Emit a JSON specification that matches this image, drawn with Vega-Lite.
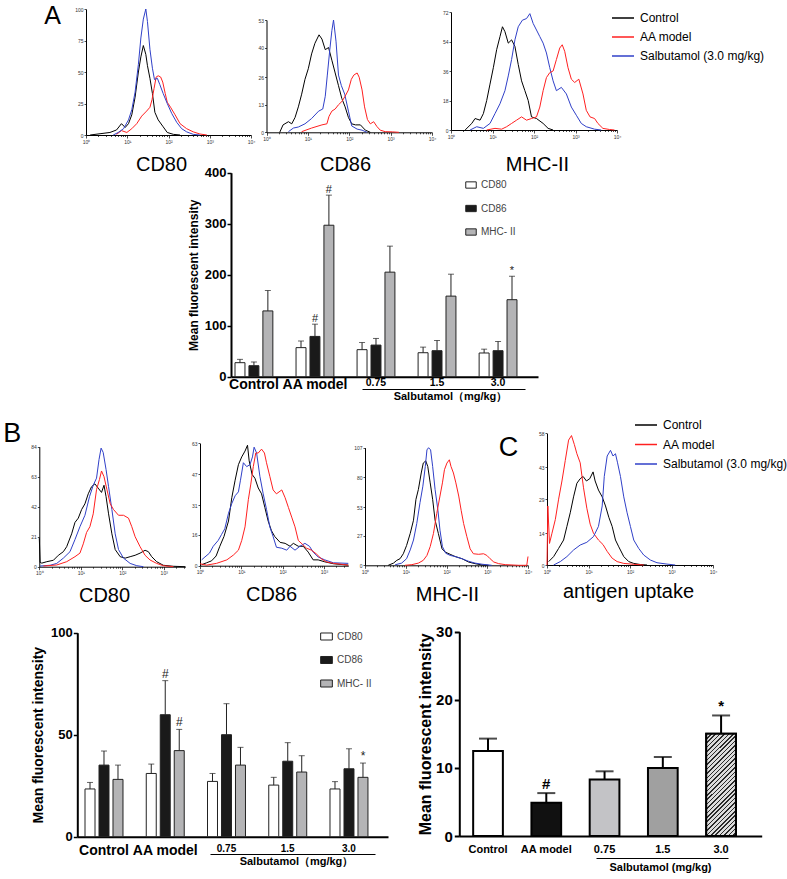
{
"$schema": "https://vega.github.io/schema/vega-lite/v6.json",
"width": 787, "height": 879,
"autosize": {"type": "none"},
"padding": 0,
"background": "white",
"config": {
 "view": {"stroke": null},
 "font": "Liberation Sans",
 "axis": {"grid": false, "domainColor": "#000", "tickColor": "#000", "labelColor": "#000", "titleColor": "#000", "labelFont": "Liberation Sans", "titleFont": "Liberation Sans"},
 "legend": {"labelFont": "Liberation Sans", "titleFont": "Liberation Sans"},
 "text": {"font": "Liberation Sans"}
},
"datasets": {
 "h": [
  {"p":"A80","s":"c","d":0.10,"n":0},{"p":"A80","s":"c","d":0.34,"n":1},{"p":"A80","s":"c","d":0.58,"n":2},{"p":"A80","s":"c","d":0.74,"n":4},{"p":"A80","s":"c","d":0.86,"n":9},{"p":"A80","s":"c","d":0.95,"n":6},{"p":"A80","s":"c","d":1.03,"n":9},{"p":"A80","s":"c","d":1.11,"n":16},{"p":"A80","s":"c","d":1.19,"n":30},{"p":"A80","s":"c","d":1.27,"n":50},{"p":"A80","s":"c","d":1.33,"n":62},{"p":"A80","s":"c","d":1.39,"n":71},{"p":"A80","s":"c","d":1.45,"n":64},{"p":"A80","s":"c","d":1.49,"n":55},{"p":"A80","s":"c","d":1.55,"n":45},{"p":"A80","s":"c","d":1.61,"n":33},{"p":"A80","s":"c","d":1.67,"n":18},{"p":"A80","s":"c","d":1.75,"n":12},{"p":"A80","s":"c","d":1.86,"n":7},{"p":"A80","s":"c","d":1.97,"n":2},{"p":"A80","s":"c","d":2.12,"n":0.5},{"p":"A80","s":"c","d":2.28,"n":0},
  {"p":"A80","s":"a","d":0.74,"n":0.5},{"p":"A80","s":"a","d":0.86,"n":3.5},{"p":"A80","s":"a","d":0.99,"n":2},{"p":"A80","s":"a","d":1.11,"n":5},{"p":"A80","s":"a","d":1.23,"n":9},{"p":"A80","s":"a","d":1.35,"n":15},{"p":"A80","s":"a","d":1.47,"n":19},{"p":"A80","s":"a","d":1.55,"n":22},{"p":"A80","s":"a","d":1.60,"n":28},{"p":"A80","s":"a","d":1.65,"n":37},{"p":"A80","s":"a","d":1.70,"n":46},{"p":"A80","s":"a","d":1.75,"n":47},{"p":"A80","s":"a","d":1.81,"n":46},{"p":"A80","s":"a","d":1.86,"n":42},{"p":"A80","s":"a","d":1.92,"n":33},{"p":"A80","s":"a","d":1.97,"n":26},{"p":"A80","s":"a","d":2.05,"n":22},{"p":"A80","s":"a","d":2.16,"n":16},{"p":"A80","s":"a","d":2.28,"n":9},{"p":"A80","s":"a","d":2.44,"n":5},{"p":"A80","s":"a","d":2.60,"n":2.5},{"p":"A80","s":"a","d":2.76,"n":0.8},{"p":"A80","s":"a","d":2.93,"n":0},
  {"p":"A80","s":"s","d":0.66,"n":0},{"p":"A80","s":"s","d":0.78,"n":2},{"p":"A80","s":"s","d":0.91,"n":5},{"p":"A80","s":"s","d":1.03,"n":12},{"p":"A80","s":"s","d":1.11,"n":20},{"p":"A80","s":"s","d":1.19,"n":34},{"p":"A80","s":"s","d":1.27,"n":56},{"p":"A80","s":"s","d":1.33,"n":77},{"p":"A80","s":"s","d":1.39,"n":92},{"p":"A80","s":"s","d":1.45,"n":100},{"p":"A80","s":"s","d":1.49,"n":90},{"p":"A80","s":"s","d":1.55,"n":68},{"p":"A80","s":"s","d":1.61,"n":53},{"p":"A80","s":"s","d":1.66,"n":44},{"p":"A80","s":"s","d":1.73,"n":45},{"p":"A80","s":"s","d":1.79,"n":40},{"p":"A80","s":"s","d":1.87,"n":33},{"p":"A80","s":"s","d":1.97,"n":25},{"p":"A80","s":"s","d":2.08,"n":17},{"p":"A80","s":"s","d":2.20,"n":10},{"p":"A80","s":"s","d":2.32,"n":5},{"p":"A80","s":"s","d":2.44,"n":2.5},{"p":"A80","s":"s","d":2.60,"n":0.5},{"p":"A80","s":"s","d":2.76,"n":0},
  {"p":"A86","s":"c","d":0.32,"n":0},{"p":"A86","s":"c","d":0.40,"n":3.5},{"p":"A86","s":"c","d":0.53,"n":5},{"p":"A86","s":"c","d":0.61,"n":4},{"p":"A86","s":"c","d":0.69,"n":7},{"p":"A86","s":"c","d":0.77,"n":12},{"p":"A86","s":"c","d":0.85,"n":18},{"p":"A86","s":"c","d":0.93,"n":25},{"p":"A86","s":"c","d":1.01,"n":30},{"p":"A86","s":"c","d":1.09,"n":37},{"p":"A86","s":"c","d":1.17,"n":42},{"p":"A86","s":"c","d":1.27,"n":46},{"p":"A86","s":"c","d":1.34,"n":44},{"p":"A86","s":"c","d":1.42,"n":39},{"p":"A86","s":"c","d":1.50,"n":40},{"p":"A86","s":"c","d":1.58,"n":34},{"p":"A86","s":"c","d":1.66,"n":28},{"p":"A86","s":"c","d":1.74,"n":22},{"p":"A86","s":"c","d":1.82,"n":16},{"p":"A86","s":"c","d":1.90,"n":12},{"p":"A86","s":"c","d":1.98,"n":7},{"p":"A86","s":"c","d":2.06,"n":4},{"p":"A86","s":"c","d":2.15,"n":3.5},{"p":"A86","s":"c","d":2.27,"n":3.5},{"p":"A86","s":"c","d":2.39,"n":1},{"p":"A86","s":"c","d":2.51,"n":0},
  {"p":"A86","s":"s","d":0.53,"n":0.3},{"p":"A86","s":"s","d":0.65,"n":2},{"p":"A86","s":"s","d":0.77,"n":2.5},{"p":"A86","s":"s","d":0.93,"n":4},{"p":"A86","s":"s","d":1.09,"n":6.5},{"p":"A86","s":"s","d":1.26,"n":10},{"p":"A86","s":"s","d":1.36,"n":11},{"p":"A86","s":"s","d":1.42,"n":17},{"p":"A86","s":"s","d":1.47,"n":27},{"p":"A86","s":"s","d":1.53,"n":39},{"p":"A86","s":"s","d":1.58,"n":48},{"p":"A86","s":"s","d":1.62,"n":53},{"p":"A86","s":"s","d":1.68,"n":43},{"p":"A86","s":"s","d":1.74,"n":27},{"p":"A86","s":"s","d":1.81,"n":22},{"p":"A86","s":"s","d":1.89,"n":18},{"p":"A86","s":"s","d":1.98,"n":10},{"p":"A86","s":"s","d":2.06,"n":3},{"p":"A86","s":"s","d":2.19,"n":1.5},{"p":"A86","s":"s","d":2.31,"n":1},{"p":"A86","s":"s","d":2.43,"n":0},
  {"p":"A86","s":"a","d":0.85,"n":0.3},{"p":"A86","s":"a","d":1.09,"n":2},{"p":"A86","s":"a","d":1.34,"n":3.5},{"p":"A86","s":"a","d":1.46,"n":4},{"p":"A86","s":"a","d":1.51,"n":7.5},{"p":"A86","s":"a","d":1.58,"n":10},{"p":"A86","s":"a","d":1.66,"n":11},{"p":"A86","s":"a","d":1.74,"n":13},{"p":"A86","s":"a","d":1.82,"n":14.5},{"p":"A86","s":"a","d":1.90,"n":17},{"p":"A86","s":"a","d":1.98,"n":20},{"p":"A86","s":"a","d":2.05,"n":25},{"p":"A86","s":"a","d":2.11,"n":27},{"p":"A86","s":"a","d":2.19,"n":28},{"p":"A86","s":"a","d":2.24,"n":26},{"p":"A86","s":"a","d":2.31,"n":20},{"p":"A86","s":"a","d":2.37,"n":12},{"p":"A86","s":"a","d":2.44,"n":6},{"p":"A86","s":"a","d":2.51,"n":4},{"p":"A86","s":"a","d":2.59,"n":5},{"p":"A86","s":"a","d":2.67,"n":2.7},{"p":"A86","s":"a","d":2.75,"n":1},{"p":"A86","s":"a","d":2.87,"n":0.3},{"p":"A86","s":"a","d":3.04,"n":0.2},{"p":"A86","s":"a","d":3.20,"n":0},
  {"p":"AMHC","s":"c","d":0.34,"n":0},{"p":"AMHC","s":"c","d":0.50,"n":4},{"p":"AMHC","s":"c","d":0.58,"n":7},{"p":"AMHC","s":"c","d":0.70,"n":6},{"p":"AMHC","s":"c","d":0.78,"n":10},{"p":"AMHC","s":"c","d":0.86,"n":18},{"p":"AMHC","s":"c","d":0.94,"n":28},{"p":"AMHC","s":"c","d":1.02,"n":38},{"p":"AMHC","s":"c","d":1.10,"n":49},{"p":"AMHC","s":"c","d":1.18,"n":57},{"p":"AMHC","s":"c","d":1.24,"n":63},{"p":"AMHC","s":"c","d":1.30,"n":60},{"p":"AMHC","s":"c","d":1.38,"n":53},{"p":"AMHC","s":"c","d":1.46,"n":55},{"p":"AMHC","s":"c","d":1.54,"n":51},{"p":"AMHC","s":"c","d":1.62,"n":40},{"p":"AMHC","s":"c","d":1.70,"n":30},{"p":"AMHC","s":"c","d":1.78,"n":24},{"p":"AMHC","s":"c","d":1.86,"n":18},{"p":"AMHC","s":"c","d":1.94,"n":8},{"p":"AMHC","s":"c","d":2.06,"n":7},{"p":"AMHC","s":"c","d":2.22,"n":4},{"p":"AMHC","s":"c","d":2.34,"n":1},{"p":"AMHC","s":"c","d":2.46,"n":0},
  {"p":"AMHC","s":"s","d":0.46,"n":0},{"p":"AMHC","s":"s","d":0.62,"n":2},{"p":"AMHC","s":"s","d":0.78,"n":1},{"p":"AMHC","s":"s","d":0.94,"n":4},{"p":"AMHC","s":"s","d":1.06,"n":10},{"p":"AMHC","s":"s","d":1.18,"n":16},{"p":"AMHC","s":"s","d":1.30,"n":24},{"p":"AMHC","s":"s","d":1.38,"n":33},{"p":"AMHC","s":"s","d":1.46,"n":43},{"p":"AMHC","s":"s","d":1.54,"n":55},{"p":"AMHC","s":"s","d":1.62,"n":63},{"p":"AMHC","s":"s","d":1.72,"n":67},{"p":"AMHC","s":"s","d":1.82,"n":68},{"p":"AMHC","s":"s","d":1.90,"n":71},{"p":"AMHC","s":"s","d":1.98,"n":65},{"p":"AMHC","s":"s","d":2.06,"n":61},{"p":"AMHC","s":"s","d":2.14,"n":57},{"p":"AMHC","s":"s","d":2.22,"n":53},{"p":"AMHC","s":"s","d":2.30,"n":47},{"p":"AMHC","s":"s","d":2.38,"n":38},{"p":"AMHC","s":"s","d":2.46,"n":30},{"p":"AMHC","s":"s","d":2.54,"n":24},{"p":"AMHC","s":"s","d":2.66,"n":26},{"p":"AMHC","s":"s","d":2.78,"n":22},{"p":"AMHC","s":"s","d":2.90,"n":14},{"p":"AMHC","s":"s","d":3.02,"n":9},{"p":"AMHC","s":"s","d":3.14,"n":4},{"p":"AMHC","s":"s","d":3.26,"n":2},{"p":"AMHC","s":"s","d":3.46,"n":0.5},{"p":"AMHC","s":"s","d":3.62,"n":0},
  {"p":"AMHC","s":"a","d":0.86,"n":0},{"p":"AMHC","s":"a","d":1.06,"n":1},{"p":"AMHC","s":"a","d":1.22,"n":0.5},{"p":"AMHC","s":"a","d":1.34,"n":2},{"p":"AMHC","s":"a","d":1.46,"n":4},{"p":"AMHC","s":"a","d":1.58,"n":6},{"p":"AMHC","s":"a","d":1.70,"n":8},{"p":"AMHC","s":"a","d":1.82,"n":6},{"p":"AMHC","s":"a","d":1.94,"n":7},{"p":"AMHC","s":"a","d":2.06,"n":8},{"p":"AMHC","s":"a","d":2.14,"n":14},{"p":"AMHC","s":"a","d":2.22,"n":24},{"p":"AMHC","s":"a","d":2.30,"n":32},{"p":"AMHC","s":"a","d":2.38,"n":35},{"p":"AMHC","s":"a","d":2.46,"n":36},{"p":"AMHC","s":"a","d":2.54,"n":43},{"p":"AMHC","s":"a","d":2.62,"n":50},{"p":"AMHC","s":"a","d":2.68,"n":52},{"p":"AMHC","s":"a","d":2.74,"n":48},{"p":"AMHC","s":"a","d":2.82,"n":38},{"p":"AMHC","s":"a","d":2.90,"n":31},{"p":"AMHC","s":"a","d":2.98,"n":29},{"p":"AMHC","s":"a","d":3.08,"n":31},{"p":"AMHC","s":"a","d":3.18,"n":22},{"p":"AMHC","s":"a","d":3.26,"n":12},{"p":"AMHC","s":"a","d":3.35,"n":8},{"p":"AMHC","s":"a","d":3.46,"n":7},{"p":"AMHC","s":"a","d":3.54,"n":4},{"p":"AMHC","s":"a","d":3.66,"n":1},{"p":"AMHC","s":"a","d":3.82,"n":0.3},{"p":"AMHC","s":"a","d":3.94,"n":0},
  {"p":"B80","s":"c","d":0,"n":20},{"p":"B80","s":"c","d":0.02,"n":3},{"p":"B80","s":"c","d":0.06,"n":2.5},{"p":"B80","s":"c","d":0.18,"n":3.5},{"p":"B80","s":"c","d":0.34,"n":4.5},{"p":"B80","s":"c","d":0.46,"n":8},{"p":"B80","s":"c","d":0.58,"n":10.5},{"p":"B80","s":"c","d":0.66,"n":14},{"p":"B80","s":"c","d":0.78,"n":23},{"p":"B80","s":"c","d":0.86,"n":31},{"p":"B80","s":"c","d":0.94,"n":34},{"p":"B80","s":"c","d":1.02,"n":40},{"p":"B80","s":"c","d":1.10,"n":44},{"p":"B80","s":"c","d":1.18,"n":51},{"p":"B80","s":"c","d":1.26,"n":56},{"p":"B80","s":"c","d":1.34,"n":58},{"p":"B80","s":"c","d":1.42,"n":55},{"p":"B80","s":"c","d":1.50,"n":52},{"p":"B80","s":"c","d":1.56,"n":57},{"p":"B80","s":"c","d":1.61,"n":49},{"p":"B80","s":"c","d":1.67,"n":37},{"p":"B80","s":"c","d":1.75,"n":23},{"p":"B80","s":"c","d":1.83,"n":12},{"p":"B80","s":"c","d":1.95,"n":7},{"p":"B80","s":"c","d":2.07,"n":6},{"p":"B80","s":"c","d":2.19,"n":7},{"p":"B80","s":"c","d":2.31,"n":8},{"p":"B80","s":"c","d":2.43,"n":9.5},{"p":"B80","s":"c","d":2.55,"n":11.5},{"p":"B80","s":"c","d":2.63,"n":10.5},{"p":"B80","s":"c","d":2.71,"n":7},{"p":"B80","s":"c","d":2.83,"n":3.5},{"p":"B80","s":"c","d":2.99,"n":1},{"p":"B80","s":"c","d":3.23,"n":0.3},{"p":"B80","s":"c","d":3.52,"n":0},
  {"p":"B80","s":"s","d":0.02,"n":0.5},{"p":"B80","s":"s","d":0.26,"n":1},{"p":"B80","s":"s","d":0.42,"n":2.3},{"p":"B80","s":"s","d":0.58,"n":6},{"p":"B80","s":"s","d":0.74,"n":10.5},{"p":"B80","s":"s","d":0.86,"n":19},{"p":"B80","s":"s","d":0.98,"n":28},{"p":"B80","s":"s","d":1.10,"n":36},{"p":"B80","s":"s","d":1.21,"n":49},{"p":"B80","s":"s","d":1.30,"n":57},{"p":"B80","s":"s","d":1.38,"n":62},{"p":"B80","s":"s","d":1.44,"n":75},{"p":"B80","s":"s","d":1.49,"n":83},{"p":"B80","s":"s","d":1.54,"n":80},{"p":"B80","s":"s","d":1.61,"n":68},{"p":"B80","s":"s","d":1.67,"n":56},{"p":"B80","s":"s","d":1.75,"n":40},{"p":"B80","s":"s","d":1.83,"n":23},{"p":"B80","s":"s","d":1.91,"n":12},{"p":"B80","s":"s","d":2.03,"n":6},{"p":"B80","s":"s","d":2.19,"n":2.3},{"p":"B80","s":"s","d":2.35,"n":0.7},{"p":"B80","s":"s","d":2.51,"n":0},
  {"p":"B80","s":"a","d":0.10,"n":0.5},{"p":"B80","s":"a","d":0.42,"n":1.2},{"p":"B80","s":"a","d":0.66,"n":3.5},{"p":"B80","s":"a","d":0.86,"n":7},{"p":"B80","s":"a","d":0.98,"n":9.5},{"p":"B80","s":"a","d":1.06,"n":16},{"p":"B80","s":"a","d":1.14,"n":24},{"p":"B80","s":"a","d":1.22,"n":28},{"p":"B80","s":"a","d":1.30,"n":37},{"p":"B80","s":"a","d":1.38,"n":54},{"p":"B80","s":"a","d":1.45,"n":61},{"p":"B80","s":"a","d":1.50,"n":67},{"p":"B80","s":"a","d":1.56,"n":63},{"p":"B80","s":"a","d":1.63,"n":54},{"p":"B80","s":"a","d":1.71,"n":44},{"p":"B80","s":"a","d":1.79,"n":40},{"p":"B80","s":"a","d":1.91,"n":36},{"p":"B80","s":"a","d":2.03,"n":36},{"p":"B80","s":"a","d":2.15,"n":34},{"p":"B80","s":"a","d":2.23,"n":28},{"p":"B80","s":"a","d":2.31,"n":21},{"p":"B80","s":"a","d":2.43,"n":14},{"p":"B80","s":"a","d":2.55,"n":8},{"p":"B80","s":"a","d":2.67,"n":4.7},{"p":"B80","s":"a","d":2.83,"n":2.3},{"p":"B80","s":"a","d":2.99,"n":0.7},{"p":"B80","s":"a","d":3.23,"n":0},
  {"p":"B86","s":"c","d":0.04,"n":0.5},{"p":"B86","s":"c","d":0.16,"n":1.5},{"p":"B86","s":"c","d":0.28,"n":2.5},{"p":"B86","s":"c","d":0.39,"n":5},{"p":"B86","s":"c","d":0.48,"n":10},{"p":"B86","s":"c","d":0.58,"n":15},{"p":"B86","s":"c","d":0.69,"n":23},{"p":"B86","s":"c","d":0.77,"n":35},{"p":"B86","s":"c","d":0.85,"n":44},{"p":"B86","s":"c","d":0.93,"n":52},{"p":"B86","s":"c","d":1.01,"n":56},{"p":"B86","s":"c","d":1.09,"n":59},{"p":"B86","s":"c","d":1.15,"n":62},{"p":"B86","s":"c","d":1.19,"n":54},{"p":"B86","s":"c","d":1.26,"n":47},{"p":"B86","s":"c","d":1.33,"n":45},{"p":"B86","s":"c","d":1.41,"n":40},{"p":"B86","s":"c","d":1.49,"n":37},{"p":"B86","s":"c","d":1.57,"n":30},{"p":"B86","s":"c","d":1.65,"n":23},{"p":"B86","s":"c","d":1.73,"n":18},{"p":"B86","s":"c","d":1.81,"n":15},{"p":"B86","s":"c","d":1.94,"n":12},{"p":"B86","s":"c","d":2.06,"n":11.5},{"p":"B86","s":"c","d":2.18,"n":10},{"p":"B86","s":"c","d":2.26,"n":11.5},{"p":"B86","s":"c","d":2.38,"n":10},{"p":"B86","s":"c","d":2.50,"n":10},{"p":"B86","s":"c","d":2.62,"n":7},{"p":"B86","s":"c","d":2.74,"n":3},{"p":"B86","s":"c","d":2.86,"n":3},{"p":"B86","s":"c","d":3.02,"n":2},{"p":"B86","s":"c","d":3.23,"n":1},{"p":"B86","s":"c","d":3.59,"n":0.3},
  {"p":"B86","s":"s","d":0.04,"n":3},{"p":"B86","s":"s","d":0.12,"n":4.5},{"p":"B86","s":"s","d":0.23,"n":6.5},{"p":"B86","s":"s","d":0.32,"n":10},{"p":"B86","s":"s","d":0.44,"n":13},{"p":"B86","s":"s","d":0.52,"n":16},{"p":"B86","s":"s","d":0.60,"n":19},{"p":"B86","s":"s","d":0.69,"n":27},{"p":"B86","s":"s","d":0.77,"n":32},{"p":"B86","s":"s","d":0.85,"n":36},{"p":"B86","s":"s","d":0.93,"n":38},{"p":"B86","s":"s","d":0.98,"n":44},{"p":"B86","s":"s","d":1.05,"n":53},{"p":"B86","s":"s","d":1.13,"n":51},{"p":"B86","s":"s","d":1.21,"n":52},{"p":"B86","s":"s","d":1.27,"n":56},{"p":"B86","s":"s","d":1.31,"n":61},{"p":"B86","s":"s","d":1.37,"n":58},{"p":"B86","s":"s","d":1.45,"n":46},{"p":"B86","s":"s","d":1.53,"n":37},{"p":"B86","s":"s","d":1.61,"n":29},{"p":"B86","s":"s","d":1.69,"n":20},{"p":"B86","s":"s","d":1.77,"n":15},{"p":"B86","s":"s","d":1.85,"n":9.5},{"p":"B86","s":"s","d":1.98,"n":9},{"p":"B86","s":"s","d":2.10,"n":8},{"p":"B86","s":"s","d":2.18,"n":10},{"p":"B86","s":"s","d":2.30,"n":8},{"p":"B86","s":"s","d":2.42,"n":10},{"p":"B86","s":"s","d":2.54,"n":11.5},{"p":"B86","s":"s","d":2.65,"n":10},{"p":"B86","s":"s","d":2.74,"n":7},{"p":"B86","s":"s","d":2.86,"n":4.5},{"p":"B86","s":"s","d":3.02,"n":3},{"p":"B86","s":"s","d":3.23,"n":1.5},{"p":"B86","s":"s","d":3.59,"n":1.2},
  {"p":"B86","s":"a","d":0,"n":1},{"p":"B86","s":"a","d":0.16,"n":0.3},{"p":"B86","s":"a","d":0.40,"n":1.2},{"p":"B86","s":"a","d":0.65,"n":3},{"p":"B86","s":"a","d":0.81,"n":5.5},{"p":"B86","s":"a","d":0.93,"n":8},{"p":"B86","s":"a","d":1.01,"n":13},{"p":"B86","s":"a","d":1.09,"n":20},{"p":"B86","s":"a","d":1.17,"n":34},{"p":"B86","s":"a","d":1.23,"n":42},{"p":"B86","s":"a","d":1.29,"n":51},{"p":"B86","s":"a","d":1.35,"n":58},{"p":"B86","s":"a","d":1.41,"n":58},{"p":"B86","s":"a","d":1.49,"n":60},{"p":"B86","s":"a","d":1.56,"n":58},{"p":"B86","s":"a","d":1.61,"n":53},{"p":"B86","s":"a","d":1.69,"n":46},{"p":"B86","s":"a","d":1.77,"n":39},{"p":"B86","s":"a","d":1.85,"n":37},{"p":"B86","s":"a","d":1.98,"n":39},{"p":"B86","s":"a","d":2.06,"n":35},{"p":"B86","s":"a","d":2.14,"n":30},{"p":"B86","s":"a","d":2.22,"n":25},{"p":"B86","s":"a","d":2.30,"n":20},{"p":"B86","s":"a","d":2.38,"n":13},{"p":"B86","s":"a","d":2.48,"n":11},{"p":"B86","s":"a","d":2.58,"n":9},{"p":"B86","s":"a","d":2.70,"n":8},{"p":"B86","s":"a","d":2.82,"n":6},{"p":"B86","s":"a","d":2.94,"n":3.5},{"p":"B86","s":"a","d":3.06,"n":2},{"p":"B86","s":"a","d":3.23,"n":1.2},{"p":"B86","s":"a","d":3.59,"n":0.3},
  {"p":"BMHC","s":"c","d":0.57,"n":0},{"p":"BMHC","s":"c","d":0.70,"n":2},{"p":"BMHC","s":"c","d":0.78,"n":4.5},{"p":"BMHC","s":"c","d":0.86,"n":6},{"p":"BMHC","s":"c","d":0.94,"n":10.5},{"p":"BMHC","s":"c","d":1.02,"n":18},{"p":"BMHC","s":"c","d":1.11,"n":29},{"p":"BMHC","s":"c","d":1.19,"n":41},{"p":"BMHC","s":"c","d":1.25,"n":60},{"p":"BMHC","s":"c","d":1.31,"n":69},{"p":"BMHC","s":"c","d":1.38,"n":84},{"p":"BMHC","s":"c","d":1.43,"n":93},{"p":"BMHC","s":"c","d":1.49,"n":95},{"p":"BMHC","s":"c","d":1.54,"n":90},{"p":"BMHC","s":"c","d":1.60,"n":75},{"p":"BMHC","s":"c","d":1.66,"n":60},{"p":"BMHC","s":"c","d":1.72,"n":41},{"p":"BMHC","s":"c","d":1.80,"n":29},{"p":"BMHC","s":"c","d":1.89,"n":15},{"p":"BMHC","s":"c","d":1.97,"n":12},{"p":"BMHC","s":"c","d":2.09,"n":10},{"p":"BMHC","s":"c","d":2.21,"n":8},{"p":"BMHC","s":"c","d":2.38,"n":6},{"p":"BMHC","s":"c","d":2.54,"n":3},{"p":"BMHC","s":"c","d":2.70,"n":1.5},{"p":"BMHC","s":"c","d":2.87,"n":0.3},{"p":"BMHC","s":"c","d":3.03,"n":0},
  {"p":"BMHC","s":"s","d":0.74,"n":0.5},{"p":"BMHC","s":"s","d":0.90,"n":2},{"p":"BMHC","s":"s","d":1.02,"n":6},{"p":"BMHC","s":"s","d":1.11,"n":14},{"p":"BMHC","s":"s","d":1.19,"n":23},{"p":"BMHC","s":"s","d":1.27,"n":38},{"p":"BMHC","s":"s","d":1.35,"n":57},{"p":"BMHC","s":"s","d":1.42,"n":72},{"p":"BMHC","s":"s","d":1.48,"n":90},{"p":"BMHC","s":"s","d":1.52,"n":105},{"p":"BMHC","s":"s","d":1.56,"n":107},{"p":"BMHC","s":"s","d":1.61,"n":105},{"p":"BMHC","s":"s","d":1.66,"n":90},{"p":"BMHC","s":"s","d":1.72,"n":69},{"p":"BMHC","s":"s","d":1.79,"n":50},{"p":"BMHC","s":"s","d":1.84,"n":32},{"p":"BMHC","s":"s","d":1.90,"n":17},{"p":"BMHC","s":"s","d":1.98,"n":11},{"p":"BMHC","s":"s","d":2.09,"n":9},{"p":"BMHC","s":"s","d":2.21,"n":8},{"p":"BMHC","s":"s","d":2.38,"n":6},{"p":"BMHC","s":"s","d":2.54,"n":3.7},{"p":"BMHC","s":"s","d":2.70,"n":2},{"p":"BMHC","s":"s","d":2.87,"n":1},{"p":"BMHC","s":"s","d":3.11,"n":0},
  {"p":"BMHC","s":"a","d":0.98,"n":0},{"p":"BMHC","s":"a","d":1.15,"n":0.6},{"p":"BMHC","s":"a","d":1.31,"n":2},{"p":"BMHC","s":"a","d":1.43,"n":4.5},{"p":"BMHC","s":"a","d":1.52,"n":9},{"p":"BMHC","s":"a","d":1.60,"n":17},{"p":"BMHC","s":"a","d":1.68,"n":29},{"p":"BMHC","s":"a","d":1.76,"n":47},{"p":"BMHC","s":"a","d":1.84,"n":63},{"p":"BMHC","s":"a","d":1.90,"n":75},{"p":"BMHC","s":"a","d":1.95,"n":87},{"p":"BMHC","s":"a","d":2.01,"n":93},{"p":"BMHC","s":"a","d":2.07,"n":96},{"p":"BMHC","s":"a","d":2.11,"n":90},{"p":"BMHC","s":"a","d":2.17,"n":84},{"p":"BMHC","s":"a","d":2.23,"n":75},{"p":"BMHC","s":"a","d":2.30,"n":63},{"p":"BMHC","s":"a","d":2.36,"n":50},{"p":"BMHC","s":"a","d":2.42,"n":38},{"p":"BMHC","s":"a","d":2.50,"n":26},{"p":"BMHC","s":"a","d":2.58,"n":15},{"p":"BMHC","s":"a","d":2.66,"n":10.5},{"p":"BMHC","s":"a","d":2.79,"n":10},{"p":"BMHC","s":"a","d":2.91,"n":10.5},{"p":"BMHC","s":"a","d":2.99,"n":9},{"p":"BMHC","s":"a","d":3.07,"n":6},{"p":"BMHC","s":"a","d":3.16,"n":3},{"p":"BMHC","s":"a","d":3.28,"n":1.5},{"p":"BMHC","s":"a","d":3.44,"n":0.6},{"p":"BMHC","s":"a","d":3.77,"n":0},{"p":"BMHC","s":"a","d":3.97,"n":0},{"p":"BMHC","s":"a","d":4.0,"n":8},
  {"p":"C","s":"c","d":0.04,"n":1.5},{"p":"C","s":"c","d":0.16,"n":3.7},{"p":"C","s":"c","d":0.28,"n":7.3},{"p":"C","s":"c","d":0.40,"n":11},{"p":"C","s":"c","d":0.48,"n":17},{"p":"C","s":"c","d":0.56,"n":23},{"p":"C","s":"c","d":0.64,"n":30},{"p":"C","s":"c","d":0.72,"n":36},{"p":"C","s":"c","d":0.80,"n":38},{"p":"C","s":"c","d":0.87,"n":39},{"p":"C","s":"c","d":0.95,"n":37},{"p":"C","s":"c","d":1.03,"n":38},{"p":"C","s":"c","d":1.11,"n":41},{"p":"C","s":"c","d":1.16,"n":37},{"p":"C","s":"c","d":1.24,"n":33},{"p":"C","s":"c","d":1.33,"n":30},{"p":"C","s":"c","d":1.41,"n":26},{"p":"C","s":"c","d":1.49,"n":21},{"p":"C","s":"c","d":1.57,"n":17},{"p":"C","s":"c","d":1.65,"n":11},{"p":"C","s":"c","d":1.73,"n":8},{"p":"C","s":"c","d":1.85,"n":3.7},{"p":"C","s":"c","d":1.97,"n":1.5},{"p":"C","s":"c","d":2.09,"n":0.7},{"p":"C","s":"c","d":2.25,"n":0.2},{"p":"C","s":"c","d":2.41,"n":0},
  {"p":"C","s":"a","d":0,"n":0},{"p":"C","s":"a","d":0.02,"n":26},{"p":"C","s":"a","d":0.06,"n":9.5},{"p":"C","s":"a","d":0.12,"n":14},{"p":"C","s":"a","d":0.20,"n":20},{"p":"C","s":"a","d":0.28,"n":29},{"p":"C","s":"a","d":0.36,"n":37},{"p":"C","s":"a","d":0.44,"n":46},{"p":"C","s":"a","d":0.52,"n":55},{"p":"C","s":"a","d":0.59,"n":57},{"p":"C","s":"a","d":0.66,"n":53},{"p":"C","s":"a","d":0.72,"n":49},{"p":"C","s":"a","d":0.80,"n":45},{"p":"C","s":"a","d":0.88,"n":34},{"p":"C","s":"a","d":0.96,"n":25},{"p":"C","s":"a","d":1.04,"n":18},{"p":"C","s":"a","d":1.12,"n":14},{"p":"C","s":"a","d":1.24,"n":11},{"p":"C","s":"a","d":1.35,"n":9},{"p":"C","s":"a","d":1.45,"n":6},{"p":"C","s":"a","d":1.57,"n":3},{"p":"C","s":"a","d":1.69,"n":1.5},{"p":"C","s":"a","d":1.85,"n":0.7},{"p":"C","s":"a","d":2.09,"n":0.3},{"p":"C","s":"a","d":2.33,"n":0},
  {"p":"C","s":"s","d":0.16,"n":0},{"p":"C","s":"s","d":0.32,"n":1.5},{"p":"C","s":"s","d":0.48,"n":3.7},{"p":"C","s":"s","d":0.64,"n":6.6},{"p":"C","s":"s","d":0.80,"n":8.8},{"p":"C","s":"s","d":0.96,"n":10},{"p":"C","s":"s","d":1.12,"n":12.5},{"p":"C","s":"s","d":1.24,"n":17},{"p":"C","s":"s","d":1.33,"n":26},{"p":"C","s":"s","d":1.38,"n":39},{"p":"C","s":"s","d":1.45,"n":48},{"p":"C","s":"s","d":1.53,"n":50.5},{"p":"C","s":"s","d":1.59,"n":48},{"p":"C","s":"s","d":1.65,"n":49},{"p":"C","s":"s","d":1.70,"n":45},{"p":"C","s":"s","d":1.77,"n":39},{"p":"C","s":"s","d":1.85,"n":30},{"p":"C","s":"s","d":1.93,"n":23},{"p":"C","s":"s","d":2.01,"n":17},{"p":"C","s":"s","d":2.09,"n":11},{"p":"C","s":"s","d":2.21,"n":7.3},{"p":"C","s":"s","d":2.33,"n":4.4},{"p":"C","s":"s","d":2.49,"n":2.2},{"p":"C","s":"s","d":2.65,"n":1},{"p":"C","s":"s","d":2.89,"n":0.4},{"p":"C","s":"s","d":3.09,"n":0}
 ],
 "ab": [
  {"g":"Control","m":"CD80","v":27.5,"e":34,"t":""},{"g":"Control","m":"CD86","v":21.6,"e":29,"t":""},{"g":"Control","m":"MHC- II","v":129,"e":169,"t":""},
  {"g":"AA model","m":"CD80","v":57,"e":70,"t":""},{"g":"AA model","m":"CD86","v":79,"e":103,"t":"#"},{"g":"AA model","m":"MHC- II","v":297,"e":356,"t":"#"},
  {"g":"0.75","m":"CD80","v":53,"e":67,"t":""},{"g":"0.75","m":"CD86","v":62,"e":75,"t":""},{"g":"0.75","m":"MHC- II","v":205,"e":256,"t":""},
  {"g":"1.5","m":"CD80","v":47,"e":58,"t":""},{"g":"1.5","m":"CD86","v":51,"e":71,"t":""},{"g":"1.5","m":"MHC- II","v":158,"e":201,"t":""},
  {"g":"3.0","m":"CD80","v":46.5,"e":54,"t":""},{"g":"3.0","m":"CD86","v":51,"e":69,"t":""},{"g":"3.0","m":"MHC- II","v":151,"e":197,"t":"*"}
 ],
 "bb": [
  {"g":"Control","m":"CD80","v":23.4,"e":26.6,"t":""},{"g":"Control","m":"CD86","v":35.1,"e":42,"t":""},{"g":"Control","m":"MHC- II","v":28.1,"e":35.1,"t":""},
  {"g":"AA model","m":"CD80","v":31,"e":35.6,"t":""},{"g":"AA model","m":"CD86","v":59.8,"e":76.5,"t":"#"},{"g":"AA model","m":"MHC- II","v":42.2,"e":52.6,"t":"#"},
  {"g":"0.75","m":"CD80","v":27.1,"e":31,"t":""},{"g":"0.75","m":"CD86","v":50,"e":65.2,"t":""},{"g":"0.75","m":"MHC- II","v":35.1,"e":43.8,"t":""},
  {"g":"1.5","m":"CD80","v":25.3,"e":29.1,"t":""},{"g":"1.5","m":"CD86","v":37,"e":46.1,"t":""},{"g":"1.5","m":"MHC- II","v":31.7,"e":39.7,"t":""},
  {"g":"3.0","m":"CD80","v":23.4,"e":27,"t":""},{"g":"3.0","m":"CD86","v":33.3,"e":43.1,"t":""},{"g":"3.0","m":"MHC- II","v":29.1,"e":36.1,"t":"*"}
 ],
 "cb": [
  {"g":"Control","v":12.5,"e":14.3,"t":""},{"g":"AA model","v":4.9,"e":6.3,"t":"#"},{"g":"0.75","v":8.3,"e":9.5,"t":""},{"g":"1.5","v":10.0,"e":11.6,"t":""},{"g":"3.0","v":15.0,"e":17.7,"t":"*"}
 ]
},
"layer": [
 {
  "data": {"name": "h"}, "transform": [{"filter": "datum.p == 'A80'"}],
  "mark": {"type": "line", "strokeWidth": 1},
  "encoding": {
   "x": {"field": "d", "type": "quantitative", "scale": {"domain": [0, 4], "range": [86, 251], "nice": false, "zero": false},
    "axis": {"orient": "bottom", "offset": -744, "values": [0,0.301,0.477,0.602,0.699,0.778,0.845,0.903,0.954,1,1.301,1.477,1.602,1.699,1.778,1.845,1.903,1.954,2,2.301,2.477,2.602,2.699,2.778,2.845,2.903,2.954,3,3.301,3.477,3.602,3.699,3.778,3.845,3.903,3.954,4],
     "labelExpr": "datum.value % 1 == 0 ? '10' + ['⁰','¹','²','³','⁴'][datum.value] : ''", "labelOverlap": false, "labelFontSize": 5, "labelColor": "#333", "labelPadding": 1, "labelFlush": false,
     "tickSize": {"condition": {"test": "datum.value % 1 == 0", "value": 3}, "value": 1.5}, "tickWidth": 0.7, "domainWidth": 1,
     "title": "CD80", "titleFontSize": 20, "titleFontWeight": "normal", "titleX": 161, "titleY": 35, "titleBaseline": "alphabetic", "titleAlign": "center"}},
   "y": {"field": "n", "type": "quantitative", "scale": {"domain": [0, 100], "range": [135, 9], "nice": false},
    "axis": {"orient": "left", "offset": -86, "values": [0,25,50,75,100], "labelFontSize": 5, "labelColor": "#333", "labelPadding": 1, "tickSize": 2, "tickWidth": 0.7, "domainWidth": 1,
     "title": "A", "titleAngle": 0, "titleX": -34, "titleY": 23, "titleAlign": "center", "titleBaseline": "alphabetic", "titleFontSize": 25, "titleFontWeight": "normal"}},
   "color": {"field": "s", "type": "nominal", "scale": {"domain": ["c","a","s"], "range": ["#000000","#ff2020","#3040c8"]}, "legend": null}
  }
 },
 {
  "data": {"name": "h"}, "transform": [{"filter": "datum.p == 'A86'"}],
  "mark": {"type": "line", "strokeWidth": 1},
  "encoding": {
   "x": {"field": "d", "type": "quantitative", "scale": {"domain": [0, 4], "range": [266.5, 432], "nice": false, "zero": false},
    "axis": {"orient": "bottom", "offset": -746.7, "values": [0,0.301,0.477,0.602,0.699,0.778,0.845,0.903,0.954,1,1.301,1.477,1.602,1.699,1.778,1.845,1.903,1.954,2,2.301,2.477,2.602,2.699,2.778,2.845,2.903,2.954,3,3.301,3.477,3.602,3.699,3.778,3.845,3.903,3.954,4],
     "labelExpr": "datum.value % 1 == 0 ? '10' + ['⁰','¹','²','³','⁴'][datum.value] : ''", "labelOverlap": false, "labelFontSize": 5, "labelColor": "#333", "labelPadding": 1, "labelFlush": false,
     "tickSize": {"condition": {"test": "datum.value % 1 == 0", "value": 3}, "value": 1.5}, "tickWidth": 0.7, "domainWidth": 1,
     "title": "CD86", "titleFontSize": 20, "titleFontWeight": "normal", "titleX": 345, "titleY": 37.7, "titleBaseline": "alphabetic", "titleAlign": "center"}},
   "y": {"field": "n", "type": "quantitative", "scale": {"domain": [0, 53], "range": [132.3, 20], "nice": false},
    "axis": {"orient": "left", "offset": -266.5, "values": [0,13,26,40,53], "labelFontSize": 5, "labelColor": "#333", "labelPadding": 1, "tickSize": 2, "tickWidth": 0.7, "domainWidth": 1, "title": null}},
   "color": {"field": "s", "type": "nominal", "scale": {"domain": ["c","a","s"], "range": ["#000000","#ff2020","#3040c8"]}, "legend": null}
  }
 },
 {
  "data": {"name": "h"}, "transform": [{"filter": "datum.p == 'AMHC'"}],
  "mark": {"type": "line", "strokeWidth": 1},
  "encoding": {
   "x": {"field": "d", "type": "quantitative", "scale": {"domain": [0, 4], "range": [451, 617], "nice": false, "zero": false},
    "axis": {"orient": "bottom", "offset": -749, "values": [0,0.301,0.477,0.602,0.699,0.778,0.845,0.903,0.954,1,1.301,1.477,1.602,1.699,1.778,1.845,1.903,1.954,2,2.301,2.477,2.602,2.699,2.778,2.845,2.903,2.954,3,3.301,3.477,3.602,3.699,3.778,3.845,3.903,3.954,4],
     "labelExpr": "datum.value % 1 == 0 ? '10' + ['⁰','¹','²','³','⁴'][datum.value] : ''", "labelOverlap": false, "labelFontSize": 5, "labelColor": "#333", "labelPadding": 1, "labelFlush": false,
     "tickSize": {"condition": {"test": "datum.value % 1 == 0", "value": 3}, "value": 1.5}, "tickWidth": 0.7, "domainWidth": 1,
     "title": "MHC-II", "titleFontSize": 20, "titleFontWeight": "normal", "titleX": 537, "titleY": 40, "titleBaseline": "alphabetic", "titleAlign": "center"}},
   "y": {"field": "n", "type": "quantitative", "scale": {"domain": [0, 72], "range": [130, 12], "nice": false},
    "axis": {"orient": "left", "offset": -451, "values": [0,18,36,54,72], "labelFontSize": 5, "labelColor": "#333", "labelPadding": 1, "tickSize": 2, "tickWidth": 0.7, "domainWidth": 1, "title": null}},
   "color": {"field": "s", "type": "nominal", "scale": {"domain": ["c","a","s"], "range": ["#000000","#ff2020","#3040c8"]},
    "legend": {"orient": "none", "legendX": 611, "legendY": 6, "title": null, "symbolType": "stroke", "symbolSize": 484, "symbolStrokeWidth": 1.5, "labelFontSize": 12, "labelColor": "#000", "labelOffset": 5, "rowPadding": 1, "padding": 0,
     "labelExpr": "datum.label == 'c' ? 'Control' : datum.label == 'a' ? 'AA model' : 'Salbutamol (3.0 mg/kg)'"}}
  }
 },
 {
  "data": {"name": "h"}, "transform": [{"filter": "datum.p == 'B80'"}],
  "mark": {"type": "line", "strokeWidth": 1},
  "encoding": {
   "x": {"field": "d", "type": "quantitative", "scale": {"domain": [0, 3.52], "range": [39.3, 185.3], "nice": false, "zero": false},
    "axis": {"orient": "bottom", "offset": -312.3, "values": [0,0.301,0.477,0.602,0.699,0.778,0.845,0.903,0.954,1,1.301,1.477,1.602,1.699,1.778,1.845,1.903,1.954,2,2.301,2.477,2.602,2.699,2.778,2.845,2.903,2.954,3,3.301,3.477],
     "labelExpr": "datum.value % 1 == 0 ? '10' + ['⁰','¹','²','³','⁴'][datum.value] : ''", "labelOverlap": false, "labelFontSize": 5, "labelColor": "#333", "labelPadding": 1, "labelFlush": false,
     "tickSize": {"condition": {"test": "datum.value % 1 == 0", "value": 3}, "value": 1.5}, "tickWidth": 0.7, "domainWidth": 1,
     "title": "CD80", "titleFontSize": 20, "titleFontWeight": "normal", "titleX": 104, "titleY": 35, "titleBaseline": "alphabetic", "titleAlign": "center"}},
   "y": {"field": "n", "type": "quantitative", "scale": {"domain": [0, 84], "range": [566.7, 446.7], "nice": false},
    "axis": {"orient": "left", "offset": -39.3, "values": [0,21,42,63,84], "labelFontSize": 5, "labelColor": "#333", "labelPadding": 1, "tickSize": 2, "tickWidth": 0.7, "domainWidth": 1,
     "title": "B", "titleAngle": 0, "titleX": -27.5, "titleY": 441.7, "titleAlign": "center", "titleBaseline": "alphabetic", "titleFontSize": 27, "titleFontWeight": "normal"}},
   "color": {"field": "s", "type": "nominal", "scale": {"domain": ["c","a","s"], "range": ["#000000","#ff2020","#3040c8"]}, "legend": null}
  }
 },
 {
  "data": {"name": "h"}, "transform": [{"filter": "datum.p == 'B86'"}],
  "mark": {"type": "line", "strokeWidth": 1},
  "encoding": {
   "x": {"field": "d", "type": "quantitative", "scale": {"domain": [0, 3.59], "range": [200, 348.3], "nice": false, "zero": false},
    "axis": {"orient": "bottom", "offset": -313.3, "values": [0,0.301,0.477,0.602,0.699,0.778,0.845,0.903,0.954,1,1.301,1.477,1.602,1.699,1.778,1.845,1.903,1.954,2,2.301,2.477,2.602,2.699,2.778,2.845,2.903,2.954,3,3.301,3.477],
     "labelExpr": "datum.value % 1 == 0 ? '10' + ['⁰','¹','²','³','⁴'][datum.value] : ''", "labelOverlap": false, "labelFontSize": 5, "labelColor": "#333", "labelPadding": 1, "labelFlush": false,
     "tickSize": {"condition": {"test": "datum.value % 1 == 0", "value": 3}, "value": 1.5}, "tickWidth": 0.7, "domainWidth": 1,
     "title": "CD86", "titleFontSize": 20, "titleFontWeight": "normal", "titleX": 271, "titleY": 35, "titleBaseline": "alphabetic", "titleAlign": "center"}},
   "y": {"field": "n", "type": "quantitative", "scale": {"domain": [0, 63], "range": [565.7, 443.3], "nice": false},
    "axis": {"orient": "left", "offset": -200, "values": [0,16,31,47,63], "labelFontSize": 5, "labelColor": "#333", "labelPadding": 1, "tickSize": 2, "tickWidth": 0.7, "domainWidth": 1, "title": null}},
   "color": {"field": "s", "type": "nominal", "scale": {"domain": ["c","a","s"], "range": ["#000000","#ff2020","#3040c8"]}, "legend": null}
  }
 },
 {
  "data": {"name": "h"}, "transform": [{"filter": "datum.p == 'BMHC'"}],
  "mark": {"type": "line", "strokeWidth": 1},
  "encoding": {
   "x": {"field": "d", "type": "quantitative", "scale": {"domain": [0, 4], "range": [365, 528], "nice": false, "zero": false},
    "axis": {"orient": "bottom", "offset": -313.7, "values": [0,0.301,0.477,0.602,0.699,0.778,0.845,0.903,0.954,1,1.301,1.477,1.602,1.699,1.778,1.845,1.903,1.954,2,2.301,2.477,2.602,2.699,2.778,2.845,2.903,2.954,3,3.301,3.477,3.602,3.699,3.778,3.845,3.903,3.954,4],
     "labelExpr": "datum.value % 1 == 0 ? '10' + ['⁰','¹','²','³','⁴'][datum.value] : ''", "labelOverlap": false, "labelFontSize": 5, "labelColor": "#333", "labelPadding": 1, "labelFlush": false,
     "tickSize": {"condition": {"test": "datum.value % 1 == 0", "value": 3}, "value": 1.5}, "tickWidth": 0.7, "domainWidth": 1,
     "title": "MHC-II", "titleFontSize": 20, "titleFontWeight": "normal", "titleX": 447, "titleY": 35, "titleBaseline": "alphabetic", "titleAlign": "center"}},
   "y": {"field": "n", "type": "quantitative", "scale": {"domain": [0, 107], "range": [565.3, 447.7], "nice": false},
    "axis": {"orient": "left", "offset": -365, "values": [0,27,53,80,107], "labelFontSize": 5, "labelColor": "#333", "labelPadding": 1, "tickSize": 2, "tickWidth": 0.7, "domainWidth": 1, "title": null}},
   "color": {"field": "s", "type": "nominal", "scale": {"domain": ["c","a","s"], "range": ["#000000","#ff2020","#3040c8"]}, "legend": null}
  }
 },
 {
  "data": {"name": "h"}, "transform": [{"filter": "datum.p == 'C'"}],
  "mark": {"type": "line", "strokeWidth": 1},
  "encoding": {
   "x": {"field": "d", "type": "quantitative", "scale": {"domain": [0, 4], "range": [547, 713], "nice": false, "zero": false},
    "axis": {"orient": "bottom", "offset": -314, "values": [0,0.301,0.477,0.602,0.699,0.778,0.845,0.903,0.954,1,1.301,1.477,1.602,1.699,1.778,1.845,1.903,1.954,2,2.301,2.477,2.602,2.699,2.778,2.845,2.903,2.954,3,3.301,3.477,3.602,3.699,3.778,3.845,3.903,3.954,4],
     "labelExpr": "datum.value % 1 == 0 ? '10' + ['⁰','¹','²','³','⁴'][datum.value] : ''", "labelOverlap": false, "labelFontSize": 5, "labelColor": "#333", "labelPadding": 1, "labelFlush": false,
     "tickSize": {"condition": {"test": "datum.value % 1 == 0", "value": 3}, "value": 1.5}, "tickWidth": 0.7, "domainWidth": 1,
     "title": "antigen uptake", "titleFontSize": 20, "titleFontWeight": "normal", "titleX": 628, "titleY": 32, "titleBaseline": "alphabetic", "titleAlign": "center"}},
   "y": {"field": "n", "type": "quantitative", "scale": {"domain": [0, 58], "range": [565, 433.3], "nice": false},
    "axis": {"orient": "left", "offset": -547, "values": [0,14,29,43,58], "labelFontSize": 5, "labelColor": "#333", "labelPadding": 1, "tickSize": 2, "tickWidth": 0.7, "domainWidth": 1,
     "title": "C", "titleAngle": 0, "titleX": -39, "titleY": 455, "titleAlign": "center", "titleBaseline": "alphabetic", "titleFontSize": 27, "titleFontWeight": "normal"}},
   "color": {"field": "s", "type": "nominal", "scale": {"domain": ["c","a","s"], "range": ["#000000","#ff2020","#3040c8"]},
    "legend": {"orient": "none", "legendX": 634, "legendY": 413, "title": null, "symbolType": "stroke", "symbolSize": 484, "symbolStrokeWidth": 1.5, "labelFontSize": 12, "labelColor": "#000", "labelOffset": 5, "rowPadding": 1.5, "padding": 0,
     "labelExpr": "datum.label == 'c' ? 'Control' : datum.label == 'a' ? 'AA model' : 'Salbutamol (3.0 mg/kg)'"}}
  }
 },
 {
  "data": {"name": "ab"},
  "encoding": {
   "x": {"field": "g", "type": "nominal", "sort": null, "scale": {"domain": ["Control","AA model","0.75","1.5","3.0"], "range": [231, 538], "paddingInner": 0.38, "paddingOuter": 0.205, "align": 0.16},
    "axis": {"orient": "bottom", "offset": -502.3, "title": null, "ticks": false, "domainWidth": 2, "labelAngle": 0, "labelPadding": 1, "labelBaseline": "top", "labelFontWeight": "bold",
     "labelFontSize": {"condition": {"test": "datum.value == 'Control' || datum.value == 'AA model'", "value": 14}, "value": 10.5}}},
   "xOffset": {"field": "m", "type": "nominal", "scale": {"domain": ["CD80","CD86","MHC- II"], "paddingInner": 0.286, "paddingOuter": 0}}
  },
  "layer": [
   {"mark": {"type": "bar", "stroke": "#222", "strokeWidth": 1},
    "encoding": {
     "y": {"field": "v", "type": "quantitative", "scale": {"domain": [0, 400], "range": [376.7, 172.7], "nice": false},
      "axis": {"orient": "left", "offset": -231, "values": [0,100,200,300,400], "tickSize": 4, "tickWidth": 1.5, "domainWidth": 2, "labelFontSize": 13, "labelFontWeight": "bold", "labelPadding": 1, "title": "Mean fluorescent intensity", "titleFontSize": 12, "titleFontWeight": "bold", "titlePadding": 4}},
     "fill": {"field": "m", "type": "nominal", "scale": {"domain": ["CD80","CD86","MHC- II"], "range": ["#ffffff","#1a1a1a","#b4b4b6"]},
      "legend": {"orient": "none", "legendX": 465, "legendY": 179, "title": null, "symbolType": "M-1,-0.6H1V0.6H-1Z", "symbolSize": 110, "symbolStrokeColor": "#222", "symbolStrokeWidth": 1, "labelFontSize": 10, "labelColor": "#444", "labelOffset": 4, "rowPadding": 11.5, "padding": 0}}
    }},
   {"mark": {"type": "rule", "stroke": "#222", "strokeWidth": 1},
    "encoding": {"y": {"field": "v", "type": "quantitative", "scale": {"domain": [0, 400], "range": [376.7, 172.7], "nice": false},
      "axis": {"orient": "left", "offset": -231, "values": [0,100,200,300,400], "tickSize": 4, "tickWidth": 1.5, "domainWidth": 2, "labelFontSize": 13, "labelFontWeight": "bold", "labelPadding": 1, "title": "Mean fluorescent intensity", "titleFontSize": 12, "titleFontWeight": "bold", "titlePadding": 4}},
     "y2": {"field": "e"}}},
   {"mark": {"type": "tick", "size": 6, "thickness": 1, "color": "#222"},
    "encoding": {"y": {"field": "e", "type": "quantitative", "scale": {"domain": [0, 400], "range": [376.7, 172.7], "nice": false},
      "axis": {"orient": "left", "offset": -231, "values": [0,100,200,300,400], "tickSize": 4, "tickWidth": 1.5, "domainWidth": 2, "labelFontSize": 13, "labelFontWeight": "bold", "labelPadding": 1, "title": "Mean fluorescent intensity", "titleFontSize": 12, "titleFontWeight": "bold", "titlePadding": 4}}}},
   {"mark": {"type": "text", "baseline": "alphabetic", "dy": -2, "fontSize": 11, "color": "#222"},
    "encoding": {"y": {"field": "e", "type": "quantitative", "scale": {"domain": [0, 400], "range": [376.7, 172.7], "nice": false},
      "axis": {"orient": "left", "offset": -231, "values": [0,100,200,300,400], "tickSize": 4, "tickWidth": 1.5, "domainWidth": 2, "labelFontSize": 13, "labelFontWeight": "bold", "labelPadding": 1, "title": "Mean fluorescent intensity", "titleFontSize": 12, "titleFontWeight": "bold", "titlePadding": 4}},
     "text": {"field": "t"}}}
  ]
 },
 {
  "data": {"name": "ab"}, "transform": [{"filter": "datum.m == 'CD80' && datum.g != 'Control' && datum.g != 'AA model'"}],
  "mark": {"type": "point", "opacity": 0},
  "encoding": {"x": {"field": "g", "type": "nominal", "sort": null, "scale": {"domain": ["0.75","1.5","3.0"], "range": [362, 525]},
   "axis": {"orient": "bottom", "offset": -490, "labels": false, "ticks": false, "domainWidth": 1.2, "title": "Salbutamol（mg/kg）", "titleFontSize": 11, "titleFontWeight": "bold", "titleX": 450, "titleY": 1, "titleBaseline": "top", "titleAlign": "center"}}}
 },
 {
  "data": {"name": "bb"},
  "encoding": {
   "x": {"field": "g", "type": "nominal", "sort": null, "scale": {"domain": ["Control","AA model","0.75","1.5","3.0"], "range": [77.3, 388], "paddingInner": 0.38, "paddingOuter": 0.2265, "align": 0.278},
    "axis": {"orient": "bottom", "offset": -42.3, "title": null, "ticks": false, "domainWidth": 2, "labelAngle": 0, "labelPadding": 7, "labelBaseline": "top", "labelFontWeight": "bold",
     "labelFontSize": {"condition": {"test": "datum.value == 'Control' || datum.value == 'AA model'", "value": 14}, "value": 10}}},
   "xOffset": {"field": "m", "type": "nominal", "scale": {"domain": ["CD80","CD86","MHC- II"], "paddingInner": 0.286, "paddingOuter": 0}}
  },
  "layer": [
   {"mark": {"type": "bar", "stroke": "#222", "strokeWidth": 1},
    "encoding": {
     "y": {"field": "v", "type": "quantitative", "scale": {"domain": [0, 100], "range": [836.7, 632.7], "nice": false},
      "axis": {"orient": "left", "offset": -77.3, "values": [0,50,100], "tickSize": 4, "tickWidth": 1.5, "domainWidth": 2, "labelFontSize": 13, "labelFontWeight": "bold", "labelPadding": 1, "title": "Mean fluorescent intensity", "titleFontSize": 14, "titleFontWeight": "bold", "titlePadding": 5}},
     "fill": {"field": "m", "type": "nominal", "scale": {"domain": ["CD80","CD86","MHC- II"], "range": ["#ffffff","#1a1a1a","#b4b4b6"]},
      "legend": {"orient": "none", "legendX": 320, "legendY": 630, "title": null, "symbolType": "M-1,-0.6H1V0.6H-1Z", "symbolSize": 137, "symbolStrokeColor": "#222", "symbolStrokeWidth": 1, "labelFontSize": 10, "labelColor": "#444", "labelOffset": 4, "rowPadding": 10.5, "padding": 0}}
    }},
   {"mark": {"type": "rule", "stroke": "#222", "strokeWidth": 1},
    "encoding": {"y": {"field": "v", "type": "quantitative", "scale": {"domain": [0, 100], "range": [836.7, 632.7], "nice": false},
      "axis": {"orient": "left", "offset": -77.3, "values": [0,50,100], "tickSize": 4, "tickWidth": 1.5, "domainWidth": 2, "labelFontSize": 13, "labelFontWeight": "bold", "labelPadding": 1, "title": "Mean fluorescent intensity", "titleFontSize": 14, "titleFontWeight": "bold", "titlePadding": 5}},
     "y2": {"field": "e"}}},
   {"mark": {"type": "tick", "size": 6, "thickness": 1, "color": "#222"},
    "encoding": {"y": {"field": "e", "type": "quantitative", "scale": {"domain": [0, 100], "range": [836.7, 632.7], "nice": false},
      "axis": {"orient": "left", "offset": -77.3, "values": [0,50,100], "tickSize": 4, "tickWidth": 1.5, "domainWidth": 2, "labelFontSize": 13, "labelFontWeight": "bold", "labelPadding": 1, "title": "Mean fluorescent intensity", "titleFontSize": 14, "titleFontWeight": "bold", "titlePadding": 5}}}},
   {"mark": {"type": "text", "baseline": "alphabetic", "dy": -3, "fontSize": 12, "color": "#222"},
    "encoding": {"y": {"field": "e", "type": "quantitative", "scale": {"domain": [0, 100], "range": [836.7, 632.7], "nice": false},
      "axis": {"orient": "left", "offset": -77.3, "values": [0,50,100], "tickSize": 4, "tickWidth": 1.5, "domainWidth": 2, "labelFontSize": 13, "labelFontWeight": "bold", "labelPadding": 1, "title": "Mean fluorescent intensity", "titleFontSize": 14, "titleFontWeight": "bold", "titlePadding": 5}},
     "text": {"field": "t"}}}
  ]
 },
 {
  "data": {"name": "bb"}, "transform": [{"filter": "datum.m == 'CD80' && datum.g != 'Control' && datum.g != 'AA model'"}],
  "mark": {"type": "point", "opacity": 0},
  "encoding": {"x": {"field": "g", "type": "nominal", "sort": null, "scale": {"domain": ["0.75","1.5","3.0"], "range": [210, 375]},
   "axis": {"orient": "bottom", "offset": -25, "labels": false, "ticks": false, "domainWidth": 1.2, "title": "Salbutamol（mg/kg）", "titleFontSize": 11, "titleFontWeight": "bold", "titleX": 296, "titleY": 1, "titleBaseline": "top", "titleAlign": "center"}}}
 },
 {
  "data": {"name": "cb"},
  "encoding": {
   "x": {"field": "g", "type": "nominal", "sort": null, "scale": {"domain": ["Control","AA model","0.75","1.5","3.0"], "range": [459.3, 761.7], "paddingInner": 0.49, "paddingOuter": 0.34, "align": 0.35},
    "axis": {"orient": "bottom", "offset": -43, "title": null, "ticks": false, "domainWidth": 2, "labelAngle": 0, "labelPadding": 7, "labelBaseline": "top", "labelFontWeight": "bold", "labelFontSize": 11}},
   "y": {"field": "v", "type": "quantitative", "scale": {"domain": [0, 30], "range": [836, 631.7], "nice": false},
    "axis": {"orient": "left", "offset": -459.3, "values": [0,10,20,30], "tickSize": 5, "tickWidth": 2, "domainWidth": 2, "labelFontSize": 15, "labelFontWeight": "bold", "labelPadding": 2, "title": "Mean fluorescent intensity", "titleFontSize": 16, "titleFontWeight": "bold", "titlePadding": 2}}
  },
  "layer": [
   {"mark": {"type": "bar", "stroke": "#000", "strokeWidth": 2},
    "encoding": {
     "fill": {"field": "g", "type": "nominal", "scale": {"domain": ["Control","AA model","0.75","1.5","3.0"], "range": ["#ffffff","#111111","#c3c3c6","#a0a0a0","#8c8c8c"]}, "legend": null}
    }},
   {"transform": [{"filter": "datum.g == '3.0'"}],
    "mark": {"type": "bar", "stroke": "#000", "strokeWidth": 2,
     "fill": {"gradient": "linear", "x1": 0, "y1": 0, "x2": 0.3459, "y2": 1.19, "stops": [
      {"offset":0,"color":"#2a2a2a"},{"offset":0.0117,"color":"#2a2a2a"},{"offset":0.0117,"color":"#dcdcdc"},{"offset":0.0333,"color":"#dcdcdc"},
      {"offset":0.0333,"color":"#2a2a2a"},{"offset":0.045,"color":"#2a2a2a"},{"offset":0.045,"color":"#dcdcdc"},{"offset":0.0667,"color":"#dcdcdc"},
      {"offset":0.0667,"color":"#2a2a2a"},{"offset":0.0783,"color":"#2a2a2a"},{"offset":0.0783,"color":"#dcdcdc"},{"offset":0.1,"color":"#dcdcdc"},
      {"offset":0.1,"color":"#2a2a2a"},{"offset":0.1117,"color":"#2a2a2a"},{"offset":0.1117,"color":"#dcdcdc"},{"offset":0.1333,"color":"#dcdcdc"},
      {"offset":0.1333,"color":"#2a2a2a"},{"offset":0.145,"color":"#2a2a2a"},{"offset":0.145,"color":"#dcdcdc"},{"offset":0.1667,"color":"#dcdcdc"},
      {"offset":0.1667,"color":"#2a2a2a"},{"offset":0.1783,"color":"#2a2a2a"},{"offset":0.1783,"color":"#dcdcdc"},{"offset":0.2,"color":"#dcdcdc"},
      {"offset":0.2,"color":"#2a2a2a"},{"offset":0.2117,"color":"#2a2a2a"},{"offset":0.2117,"color":"#dcdcdc"},{"offset":0.2333,"color":"#dcdcdc"},
      {"offset":0.2333,"color":"#2a2a2a"},{"offset":0.245,"color":"#2a2a2a"},{"offset":0.245,"color":"#dcdcdc"},{"offset":0.2667,"color":"#dcdcdc"},
      {"offset":0.2667,"color":"#2a2a2a"},{"offset":0.2783,"color":"#2a2a2a"},{"offset":0.2783,"color":"#dcdcdc"},{"offset":0.3,"color":"#dcdcdc"},
      {"offset":0.3,"color":"#2a2a2a"},{"offset":0.3117,"color":"#2a2a2a"},{"offset":0.3117,"color":"#dcdcdc"},{"offset":0.3333,"color":"#dcdcdc"},
      {"offset":0.3333,"color":"#2a2a2a"},{"offset":0.345,"color":"#2a2a2a"},{"offset":0.345,"color":"#dcdcdc"},{"offset":0.3667,"color":"#dcdcdc"},
      {"offset":0.3667,"color":"#2a2a2a"},{"offset":0.3783,"color":"#2a2a2a"},{"offset":0.3783,"color":"#dcdcdc"},{"offset":0.4,"color":"#dcdcdc"},
      {"offset":0.4,"color":"#2a2a2a"},{"offset":0.4117,"color":"#2a2a2a"},{"offset":0.4117,"color":"#dcdcdc"},{"offset":0.4333,"color":"#dcdcdc"},
      {"offset":0.4333,"color":"#2a2a2a"},{"offset":0.445,"color":"#2a2a2a"},{"offset":0.445,"color":"#dcdcdc"},{"offset":0.4667,"color":"#dcdcdc"},
      {"offset":0.4667,"color":"#2a2a2a"},{"offset":0.4783,"color":"#2a2a2a"},{"offset":0.4783,"color":"#dcdcdc"},{"offset":0.5,"color":"#dcdcdc"},
      {"offset":0.5,"color":"#2a2a2a"},{"offset":0.5117,"color":"#2a2a2a"},{"offset":0.5117,"color":"#dcdcdc"},{"offset":0.5333,"color":"#dcdcdc"},
      {"offset":0.5333,"color":"#2a2a2a"},{"offset":0.545,"color":"#2a2a2a"},{"offset":0.545,"color":"#dcdcdc"},{"offset":0.5667,"color":"#dcdcdc"},
      {"offset":0.5667,"color":"#2a2a2a"},{"offset":0.5783,"color":"#2a2a2a"},{"offset":0.5783,"color":"#dcdcdc"},{"offset":0.6,"color":"#dcdcdc"},
      {"offset":0.6,"color":"#2a2a2a"},{"offset":0.6117,"color":"#2a2a2a"},{"offset":0.6117,"color":"#dcdcdc"},{"offset":0.6333,"color":"#dcdcdc"},
      {"offset":0.6333,"color":"#2a2a2a"},{"offset":0.645,"color":"#2a2a2a"},{"offset":0.645,"color":"#dcdcdc"},{"offset":0.6667,"color":"#dcdcdc"},
      {"offset":0.6667,"color":"#2a2a2a"},{"offset":0.6783,"color":"#2a2a2a"},{"offset":0.6783,"color":"#dcdcdc"},{"offset":0.7,"color":"#dcdcdc"},
      {"offset":0.7,"color":"#2a2a2a"},{"offset":0.7117,"color":"#2a2a2a"},{"offset":0.7117,"color":"#dcdcdc"},{"offset":0.7333,"color":"#dcdcdc"},
      {"offset":0.7333,"color":"#2a2a2a"},{"offset":0.745,"color":"#2a2a2a"},{"offset":0.745,"color":"#dcdcdc"},{"offset":0.7667,"color":"#dcdcdc"},
      {"offset":0.7667,"color":"#2a2a2a"},{"offset":0.7783,"color":"#2a2a2a"},{"offset":0.7783,"color":"#dcdcdc"},{"offset":0.8,"color":"#dcdcdc"},
      {"offset":0.8,"color":"#2a2a2a"},{"offset":0.8117,"color":"#2a2a2a"},{"offset":0.8117,"color":"#dcdcdc"},{"offset":0.8333,"color":"#dcdcdc"},
      {"offset":0.8333,"color":"#2a2a2a"},{"offset":0.845,"color":"#2a2a2a"},{"offset":0.845,"color":"#dcdcdc"},{"offset":0.8667,"color":"#dcdcdc"},
      {"offset":0.8667,"color":"#2a2a2a"},{"offset":0.8783,"color":"#2a2a2a"},{"offset":0.8783,"color":"#dcdcdc"},{"offset":0.9,"color":"#dcdcdc"},
      {"offset":0.9,"color":"#2a2a2a"},{"offset":0.9117,"color":"#2a2a2a"},{"offset":0.9117,"color":"#dcdcdc"},{"offset":0.9333,"color":"#dcdcdc"},
      {"offset":0.9333,"color":"#2a2a2a"},{"offset":0.945,"color":"#2a2a2a"},{"offset":0.945,"color":"#dcdcdc"},{"offset":0.9667,"color":"#dcdcdc"},
      {"offset":0.9667,"color":"#2a2a2a"},{"offset":0.9783,"color":"#2a2a2a"},{"offset":0.9783,"color":"#dcdcdc"},{"offset":1,"color":"#dcdcdc"}]}}},
   {"mark": {"type": "rule", "stroke": "#000", "strokeWidth": 2},
    "encoding": {"y2": {"field": "e"}}},
   {"mark": {"type": "tick", "size": 18, "thickness": 2, "color": "#000"},
    "encoding": {"y": {"field": "e", "type": "quantitative", "scale": {"domain": [0, 30], "range": [836, 631.7], "nice": false},
     "axis": {"orient": "left", "offset": -459.3, "values": [0,10,20,30], "tickSize": 5, "tickWidth": 2, "domainWidth": 2, "labelFontSize": 15, "labelFontWeight": "bold", "labelPadding": 2, "title": "Mean fluorescent intensity", "titleFontSize": 16, "titleFontWeight": "bold", "titlePadding": 2}}}},
   {"mark": {"type": "text", "baseline": "alphabetic", "dy": -4, "fontSize": 15, "fontWeight": "bold", "color": "#000"},
    "encoding": {"y": {"field": "e", "type": "quantitative", "scale": {"domain": [0, 30], "range": [836, 631.7], "nice": false},
     "axis": {"orient": "left", "offset": -459.3, "values": [0,10,20,30], "tickSize": 5, "tickWidth": 2, "domainWidth": 2, "labelFontSize": 15, "labelFontWeight": "bold", "labelPadding": 2, "title": "Mean fluorescent intensity", "titleFontSize": 16, "titleFontWeight": "bold", "titlePadding": 2}},
     "text": {"field": "t"}}}
  ]
 },
 {
  "data": {"name": "cb"}, "transform": [{"filter": "datum.g != 'Control' && datum.g != 'AA model'"}],
  "mark": {"type": "point", "opacity": 0},
  "encoding": {"x": {"field": "g", "type": "nominal", "sort": null, "scale": {"domain": ["0.75","1.5","3.0"], "range": [596, 728]},
   "axis": {"orient": "bottom", "offset": -21, "labels": false, "ticks": false, "domainWidth": 1.2, "title": "Salbutamol (mg/kg)", "titleFontSize": 11, "titleFontWeight": "bold", "titleX": 660, "titleY": 3, "titleBaseline": "top", "titleAlign": "center"}}}
 }
],
"resolve": {
 "scale": {"x": "independent", "y": "independent", "xOffset": "independent", "color": "independent", "fill": "independent"},
 "axis": {"x": "independent", "y": "independent"},
 "legend": {"color": "independent", "fill": "independent"}
}
}
